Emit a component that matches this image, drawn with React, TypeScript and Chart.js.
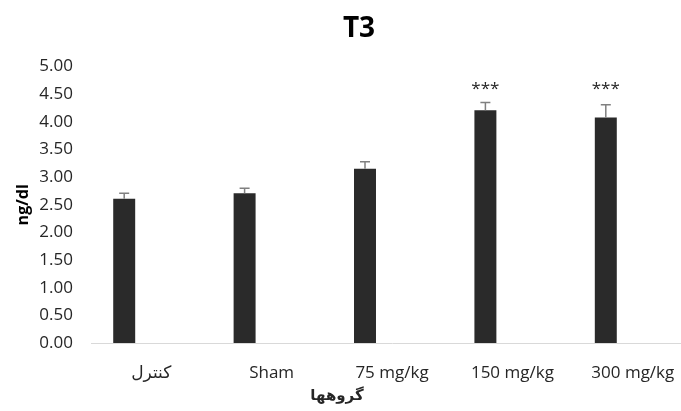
import React, { useEffect, useRef } from "react";
import { Chart, registerables } from "chart.js";

Chart.register(...registerables);

const categories = ["کنترل", "Sham", "75 mg/kg", "150 mg/kg", "300 mg/kg"];
const means = [2.61, 2.71, 3.15, 4.21, 4.08];
const errors = [0.1, 0.09, 0.13, 0.14, 0.23];
const marks = ["", "", "", "***", "***"];
const yTicksMin = 0;
const yTicksMax = 5;
const yTickStep = 0.5;
const chartTitle = "T3";
const yTitle = "ng/dl";
const xTitle = "گروهها";

const FONT = "'Open Sans', 'DejaVu Sans', sans-serif";

const errorBarPlugin = {
  id: "errorBars",
  afterDatasetsDraw(chart: any) {
    const meta = chart.getDatasetMeta(0);
    const y = chart.scales.y;
    const ctx = chart.ctx;
    ctx.save();
    meta.data.forEach((bar: any, i: number) => {
      const top = y.getPixelForValue(means[i] + errors[i]);
      const base = y.getPixelForValue(means[i]);
      ctx.strokeStyle = "#808080";
      ctx.lineWidth = 1.5;
      ctx.beginPath();
      ctx.moveTo(bar.x, base);
      ctx.lineTo(bar.x, top);
      ctx.moveTo(bar.x - 5, top);
      ctx.lineTo(bar.x + 5, top);
      ctx.stroke();
      if (marks[i]) {
        ctx.fillStyle = "#262626";
        ctx.font = `17px ${FONT}`;
        ctx.textAlign = "center";
        ctx.textBaseline = "middle";
        ctx.fillText(marks[i], bar.x, y.getPixelForValue(4.6));
      }
    });
    // x axis title
    ctx.fillStyle = "#262626";
    ctx.font = `bold 15px ${FONT}`;
    ctx.textAlign = "center";
    ctx.textBaseline = "middle";
    ctx.fillText(xTitle, chart.width / 2 - 22, 396);
    ctx.restore();
  },
};

export default function App() {
  const ref = useRef<HTMLCanvasElement>(null);
  useEffect(() => {
    if (!ref.current) return;
    const chart = new Chart(ref.current, {
      type: "bar",
      data: {
        labels: categories,
        datasets: [
          {
            data: means,
            backgroundColor: "#2a2a2a",
            categoryPercentage: 0.897,
            barPercentage: 0.407,
          },
          {
            data: categories.map(() => null),
            backgroundColor: "transparent",
            categoryPercentage: 0.897,
            barPercentage: 0.407,
          },
        ],
      },
      options: {
        animation: false,
        responsive: false,
        devicePixelRatio: 1,
        layout: { padding: 0 },
        plugins: {
          legend: { display: false },
          tooltip: { enabled: false },
          title: {
            display: true,
            text: chartTitle,
            color: "#000000",
            font: { family: FONT, size: 28, weight: "bold" },
            padding: { top: 12, bottom: 21 },
          },
        },
        scales: {
          x: {
            grid: { display: false, drawTicks: false },
            border: { display: true, color: "#d9d9d9", width: 1 },
            ticks: {
              color: "#262626",
              font: { family: FONT, size: 17 },
              padding: 20,
              maxRotation: 0,
              autoSkip: false,
            },
            afterFit(scale: any) {
              scale.height = 68;
            },
          },
          y: {
            min: yTicksMin,
            max: yTicksMax,
            grid: { display: false, drawTicks: false },
            border: { display: false },
            ticks: {
              stepSize: yTickStep,
              color: "#262626",
              font: { family: FONT, size: 17 },
              padding: 18,
              callback: (v: any) => Number(v).toFixed(2),
            },
            title: {
              display: true,
              text: yTitle,
              color: "#000000",
              font: { family: FONT, size: 16, weight: "bold" },
              padding: { top: 14, bottom: 0 },
            },
            afterFit(scale: any) {
              scale.width = 91;
            },
          },
          spacer: {
            type: "linear",
            position: "right",
            display: true,
            grid: { display: false, drawTicks: false },
            border: { display: false },
            ticks: { display: false },
            afterFit(scale: any) {
              scale.width = 25;
            },
          },
        },
      },
      plugins: [errorBarPlugin],
    });
    return () => chart.destroy();
  }, []);
  return (
    <div
      style={{
        position: "fixed",
        left: 0,
        top: 0,
        width: 681,
        height: 411,
        overflow: "hidden",
        background: "#ffffff",
      }}
    >
      <canvas ref={ref} width={718} height={411} style={{ display: "block" }} />
    </div>
  );
}
